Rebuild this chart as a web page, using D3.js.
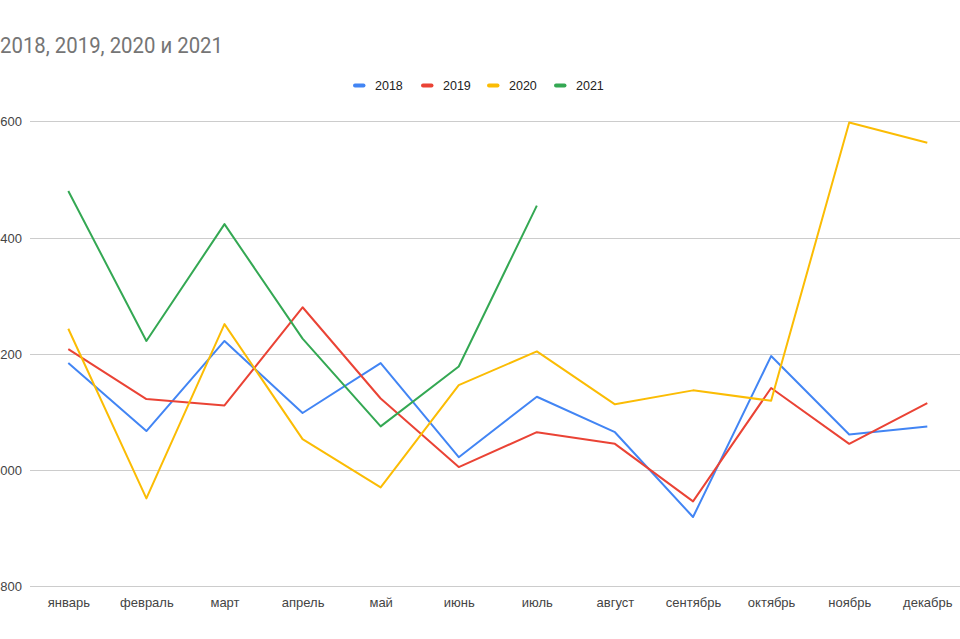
<!DOCTYPE html>
<html><head><meta charset="utf-8">
<script src="https://cdn.jsdelivr.net/npm/d3@7"></script>
<style>body{margin:0;background:#fff;overflow:hidden}svg{display:block}</style>
</head><body>
<svg id="c" width="960" height="639"></svg>
<script>
const months = ["январь","февраль","март","апрель","май","июнь","июль","август","сентябрь","октябрь","ноябрь","декабрь"];
const years = ["2018","2019","2020","2021"];
const v2018 = [1184,1067,1222,1098,1184,1022,1126,1065,919,1196,1061,1075];
const v2019 = [1208,1122,1111,1280,1123,1005,1065,1045,946,1141,1045,1115];
const v2020 = [1243,951,1251,1053,970,1146,1204,1113,1137,1119,1598,1563];
const v2021 = [1480,1222,1423,1226,1075,1178,1455];
const yTicks = [800,1000,1200,1400,1600];
const title = "2018, 2019, 2020 и 2021";
const colors = ["#4285F4","#EA4335","#FBBC04","#34A853"];
const seriesData = [v2018,v2019,v2020,v2021];
const FONT = "'Liberation Sans', Arial, sans-serif";

const svg = d3.select("#c");
const x = d3.scalePoint().domain(months).range([68.3, 927.3]);
const y = d3.scaleLinear().domain([800,1600]).range([586.2, 121.3]);

// title
svg.append("text").attr("x",0).attr("y",52.5).attr("font-family","Roboto, Arial, sans-serif")
  .attr("font-size",22).attr("fill","#757575").attr("textLength",223).attr("lengthAdjust","spacingAndGlyphs")
  .text(title);

// grid
svg.append("g").selectAll("line").data(yTicks).join("line")
  .attr("x1",30).attr("x2",960).attr("y1",d=>Math.round(y(d))+0.5).attr("y2",d=>Math.round(y(d))+0.5)
  .attr("stroke","#cccccc").attr("stroke-width",1);

// y axis labels
const yAxis = d3.axisLeft(y).tickValues(yTicks).tickSize(0).tickFormat(d3.format("d"));
const gy = svg.append("g").attr("transform","translate(22,0)").call(yAxis);
gy.select(".domain").remove();
gy.selectAll("text").attr("font-family",FONT).attr("font-size",13).attr("fill","#444").attr("x",0).attr("dy","0.35em");

// x axis labels
const xAxis = d3.axisBottom(x).tickSize(0);
const gx = svg.append("g").attr("transform","translate(0,595)").call(xAxis);
gx.select(".domain").remove();
gx.selectAll("text").attr("font-family",FONT).attr("font-size",13).attr("fill","#444").attr("dy","0.71em");

// lines
const line = d3.line().x((d,i)=>x(months[i])).y(d=>y(d));
seriesData.forEach((s,k)=>{
  svg.append("path").datum(s).attr("d",line).attr("fill","none").attr("stroke",colors[k])
    .attr("stroke-width",2).attr("stroke-linejoin","round");
});

// legend
const legX = [353,421,487,554];
const lg = svg.append("g");
years.forEach((yr,k)=>{
  lg.append("rect").attr("x",legX[k]).attr("y",83.5).attr("width",12.5).attr("height",4).attr("rx",2).attr("fill",colors[k]);
  lg.append("text").attr("x",legX[k]+22).attr("y",90).attr("font-family",FONT).attr("font-size",12.5).attr("fill","#222").text(yr);
});
</script>
</body></html>
